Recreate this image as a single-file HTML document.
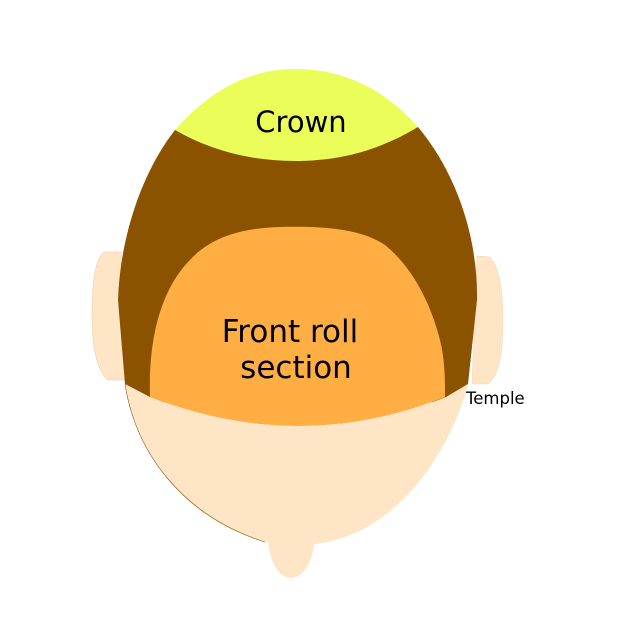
<!DOCTYPE html>
<html><head><style>
html,body{margin:0;padding:0;background:#fff;width:625px;height:625px;overflow:hidden}
svg{display:block}
</style></head><body>
<svg width="625" height="625" viewBox="0 0 625 625" xmlns="http://www.w3.org/2000/svg">
<rect width="625" height="625" fill="#fff"/>
<path d="M104,252 L121,252 L125,380 L108,380 C95,370 92,340 92,315 C92,285 95,258 104,252Z" fill="#fee5c5" stroke="#e8c8a0" stroke-width="0.5"/>
<path d="M477,256 L490,257 C499,266 503,290 503,320 C503,355 498,378 488,384 L472,384Z" fill="#fee5c5" stroke="#f0d4b0" stroke-width="0.5"/>
<path d="M268,535 C268,560 278,578 291,578 C304,578 314,560 315,535Z" fill="#fee5c5"/>
<path d="M175,130 C140,175 120,240 118,300 L125,384 L150,402 L446,402 L468,384 L477,300 C478,240 458,175 418,127 Z" fill="#8b5200"/>
<path d="M175,130 C210,90 250,69 295,69 C345,69 385,90 418,127 C380,150 340,161 295,161 C250,161 210,150 175,130Z" fill="#ebfd59"/>
<path d="M150,397 C148,330 165,285 190,260 C210,238 240,228 280,227 C320,226 360,228 385,245 C410,265 430,300 440,340 C445,360 445,380 445,397 Q300,455 150,397Z" fill="#feae42"/>
<path d="M125,384 L150,397 Q300,455 446,397 L468,384 C450,455 390,545 300,545 C210,545 140,470 125,384Z" fill="#fee5c5"/>
<path d="M125,384 C135,450 180,515 265,542" fill="none" stroke="#8b5200" stroke-width="0.6"/>
<text x="301" y="132" font-family="'DejaVu Sans',sans-serif" font-size="29" text-anchor="middle">Crown</text>
<text x="290" y="342" font-family="'DejaVu Sans',sans-serif" font-size="31" text-anchor="middle">Front roll</text>
<text x="296" y="378" font-family="'DejaVu Sans',sans-serif" font-size="31" text-anchor="middle">section</text>
<text x="466" y="404" font-family="'DejaVu Sans',sans-serif" font-size="16.5">Temple</text>
</svg>
</body></html>
